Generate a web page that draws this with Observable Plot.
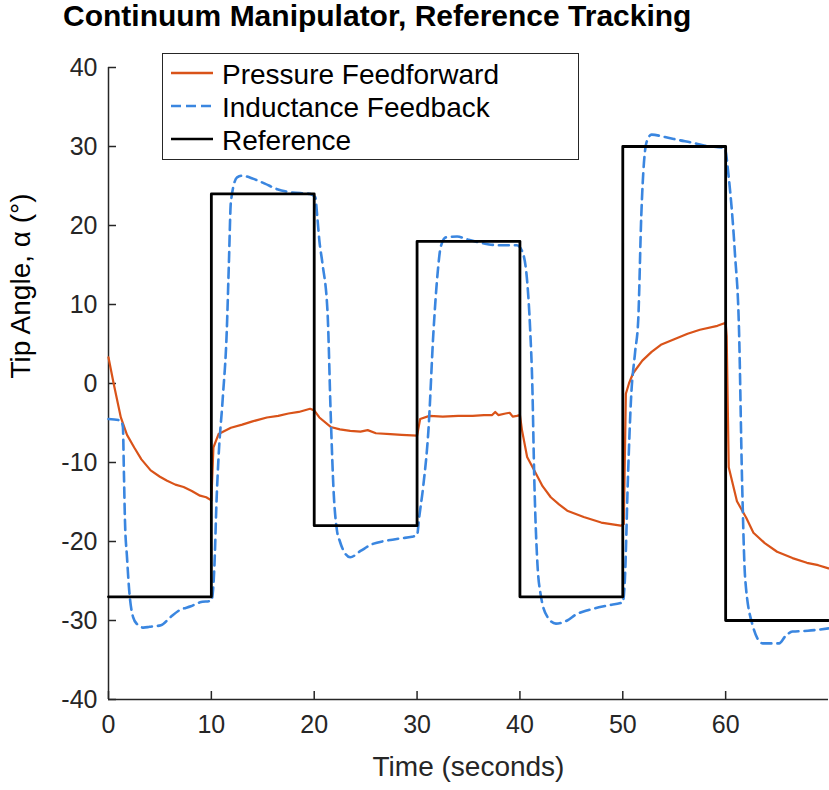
<!DOCTYPE html>
<html>
<head>
<meta charset="utf-8">
<script src="https://cdn.jsdelivr.net/npm/d3@7"></script>
<script src="https://cdn.jsdelivr.net/npm/@observablehq/plot@0.6"></script>
<style>
  html, body { margin: 0; padding: 0; background: #fff; }
  #wrap { position: relative; width: 829px; height: 790px; font-family: "Liberation Sans", Arial, sans-serif; color: #000; }
  #title { position: absolute; left: 63px; top: -2px; height: 40px; font-size: 30px; font-weight: bold; line-height: 36px; white-space: nowrap; }
  #chart { position: absolute; left: 0; top: 40px; }
  #legend { position: absolute; left: 162px; top: 53px; width: 415px; height: 105px; border: 1.3px solid #262626; background: #fff; }
  .row { position: absolute; left: 0; height: 33px; width: 100%; }
  .row svg { position: absolute; left: 8px; top: 0; }
  .row span { position: absolute; left: 59px; top: 0; font-size: 28px; line-height: 33px; white-space: nowrap; color: #000; }
</style>
</head>
<body>
<div id="wrap">
  <div id="title">Continuum Manipulator, Reference Tracking</div>
  <div id="chart"></div>
  <div id="legend"></div>
</div>
<script>
// ---- Data ----
const seriesNames = ["Pressure Feedforward", "Inductance Feedback", "Reference"];
const seriesColors = ["#D95319", "#3A86E0", "#000000"];

const xTicks = [0, 10, 20, 30, 40, 50, 60];
const yTicks = [-40, -30, -20, -10, 0, 10, 20, 30, 40];

// Reference (step signal)
const refTime  = [0, 10, 20, 30, 40, 50, 60, 70];
const refAngle = [-27, 24, -18, 18, -27, 30, -30, -30];

// Pressure Feedforward
const ffTime = [0, 0.5, 1.2, 1.8, 2.5, 3.2, 4.1, 5, 5.7, 6.5, 7.3, 8.1, 8.9, 9.5, 10,
  10.2, 10.7, 11.9, 13, 14, 15.4, 16.5, 17.5, 18.5, 19.6, 20,
  20.5, 21.6, 22.5, 23.5, 24.5, 25.2, 26, 27.4, 28.5, 30,
  30.3, 31.2, 32.5, 34, 35.4, 36.5, 37.3, 37.6, 37.9, 38.6, 39, 39.3, 39.7, 40,
  40.2, 40.7, 41.4, 42.2, 43, 43.8, 44.6, 46.2, 47.9, 49.8, 50.1,
  50.3, 50.6, 51, 51.9, 52.8, 53.7, 55, 56.3, 57.5, 59.2, 60,
  60.1, 60.3, 61.1, 62, 62.7, 63.8, 65, 66.5, 67.9, 69, 70];
const ffAngle = [3.3, 0, -4.3, -6.5, -8.1, -9.6, -11, -11.8, -12.3, -12.8, -13.1, -13.6, -14.2, -14.4, -14.8,
  -8.1, -6.4, -5.6, -5.2, -4.8, -4.3, -4.1, -3.8, -3.6, -3.2, -3.4,
  -4.3, -5.5, -5.8, -6.0, -6.1, -5.9, -6.3, -6.4, -6.5, -6.6,
  -4.5, -4.1, -4.2, -4.1, -4.1, -4.0, -4.0, -3.6, -4.0, -3.8, -3.7, -4.2, -4.1, -4.0,
  -5.9, -9.3, -11, -13, -14.4, -15.3, -16.1, -16.9, -17.6, -18, -17.8,
  -1.3, 0, 1.3, 2.9, 4, 4.9, 5.6, 6.3, 6.8, 7.3, 7.7,
  6, -10.6, -14.9, -17, -18.9, -20.2, -21.3, -22.1, -22.7, -23, -23.4];

// Inductance Feedback
const fbTime = [0, 1.2, 1.4, 1.5, 1.6, 1.8, 2, 2.4, 2.8, 3.4, 4, 5.1, 6, 6.9, 8, 8.9, 10,
  10.3, 10.5, 10.7, 11.1, 11.5, 11.7, 11.9, 12.5, 13, 14.1, 15.2, 16.4, 17.7, 19.6, 20.1,
  20.3, 20.5, 20.8, 21.3, 21.6, 21.9, 22.2, 22.5, 23, 23.5, 24.5, 25.7, 27, 28.4, 29.5, 30,
  30.2, 30.6, 31.1, 31.6, 32, 32.3, 32.8, 33.9, 35, 35.9, 37, 38.1, 39.7, 40.2,
  40.7, 41, 41.2, 41.4, 41.7, 42, 42.7, 43.5, 44.6, 45.5, 46.6, 48.5, 50,
  50.2, 50.5, 50.8, 51.2, 51.5, 51.8, 52.3, 52.8, 54.1, 55.5, 56.7, 58, 59.9,
  60.3, 60.9, 61.3, 61.6, 61.9, 62.6, 63.6, 65.2, 65.8, 66.5, 68, 70];
const fbAngle = [-4.5, -4.7, -5.5, -11.4, -17.3, -22, -26, -29.6, -30.5, -30.9, -30.8, -30.6, -29.6, -28.7, -28.2, -27.7, -27.5,
  -23, -15, -9.3, -2, 6.7, 15, 23, 26.1, 26.3, 25.9, 25.3, 24.6, 24.2, 24, 23.6,
  21.1, 18.1, 15.2, 8.9, -3.8, -14, -18.5, -20, -21.5, -22, -21.2, -20.3, -19.9, -19.6, -19.4, -19.2,
  -17, -13, -6, 6.7, 14, 17.3, 18.5, 18.6, 18.2, 17.9, 17.6, 17.5, 17.5, 16.8,
  13, 6.7, 0, -12.3, -22.8, -26.6, -29.6, -30.4, -30, -29.2, -28.7, -28.1, -27.7,
  -24.9, -12, -2, 4, 8, 21.3, 30.5, 31.5, 31.2, 30.8, 30.5, 30.1, 29.8,
  26.1, 16.5, 6.8, -12.5, -24.7, -30.5, -32.9, -32.9, -32, -31.4, -31.3, -31];

const ref = refTime.map((t, i) => ({t, v: refAngle[i]}));
const ff = ffTime.map((t, i) => ({t, v: ffAngle[i]}));
const fb = fbTime.map((t, i) => ({t, v: fbAngle[i]}));

const axisColor = "#262626";
const plainFormat = d => String(d);

const chart = Plot.plot({
  width: 829,
  height: 750,
  marginTop: 27,
  marginBottom: 91,
  marginLeft: 108,
  marginRight: 1,
  style: {fontFamily: '"Liberation Sans", Arial, sans-serif', fontSize: "25px", color: axisColor, background: "transparent", overflow: "visible"},
  x: {domain: [0, 70], label: null},
  y: {domain: [-40, 40], label: null},
  marks: [
    Plot.axisX({ticks: xTicks, tickFormat: plainFormat, tickSize: -8, tickPadding: 24, fontSize: 25, label: null, strokeWidth: 1.5, stroke: axisColor, color: axisColor}),
    Plot.axisY({ticks: yTicks, tickFormat: plainFormat, tickSize: -8, tickPadding: 19, fontSize: 25, label: null, strokeWidth: 1.5, stroke: axisColor, color: axisColor}),
    Plot.ruleX([0], {stroke: axisColor, strokeWidth: 1.5}),
    Plot.ruleY([-40], {stroke: axisColor, strokeWidth: 1.5}),
    Plot.line(ff, {x: "t", y: "v", stroke: seriesColors[0], strokeWidth: 2.2, curve: "linear"}),
    Plot.line(fb, {x: "t", y: "v", stroke: seriesColors[1], strokeWidth: 2.6, strokeDasharray: "10,6", curve: "monotone-x"}),
    Plot.line(ref, {x: "t", y: "v", stroke: seriesColors[2], strokeWidth: 2.8, curve: "step-after"}),
    Plot.text(["Time (seconds)"], {text: d => d, frameAnchor: "bottom", dy: 76, fontSize: 28, fill: axisColor}),
    Plot.text(["Tip Angle, α (°)"], {text: d => d, frameAnchor: "left", dx: -87, dy: -5, rotate: -90, fontSize: 28, fill: "#000"})
  ]
});
document.getElementById("chart").appendChild(chart);

// Legend
const legend = document.getElementById("legend");
const rowTops = [4, 37, 70];
seriesNames.forEach((name, i) => {
  const row = document.createElement("div");
  row.className = "row";
  row.style.top = rowTops[i] + "px";
  const dash = i === 1 ? ' stroke-dasharray="10,5"' : "";
  row.innerHTML = `<svg width="44" height="33"><line x1="0" x2="42" y1="15" y2="15" stroke="${seriesColors[i]}" stroke-width="2.4"${dash}/></svg><span>${name}</span>`;
  legend.appendChild(row);
});
</script>
</body>
</html>
